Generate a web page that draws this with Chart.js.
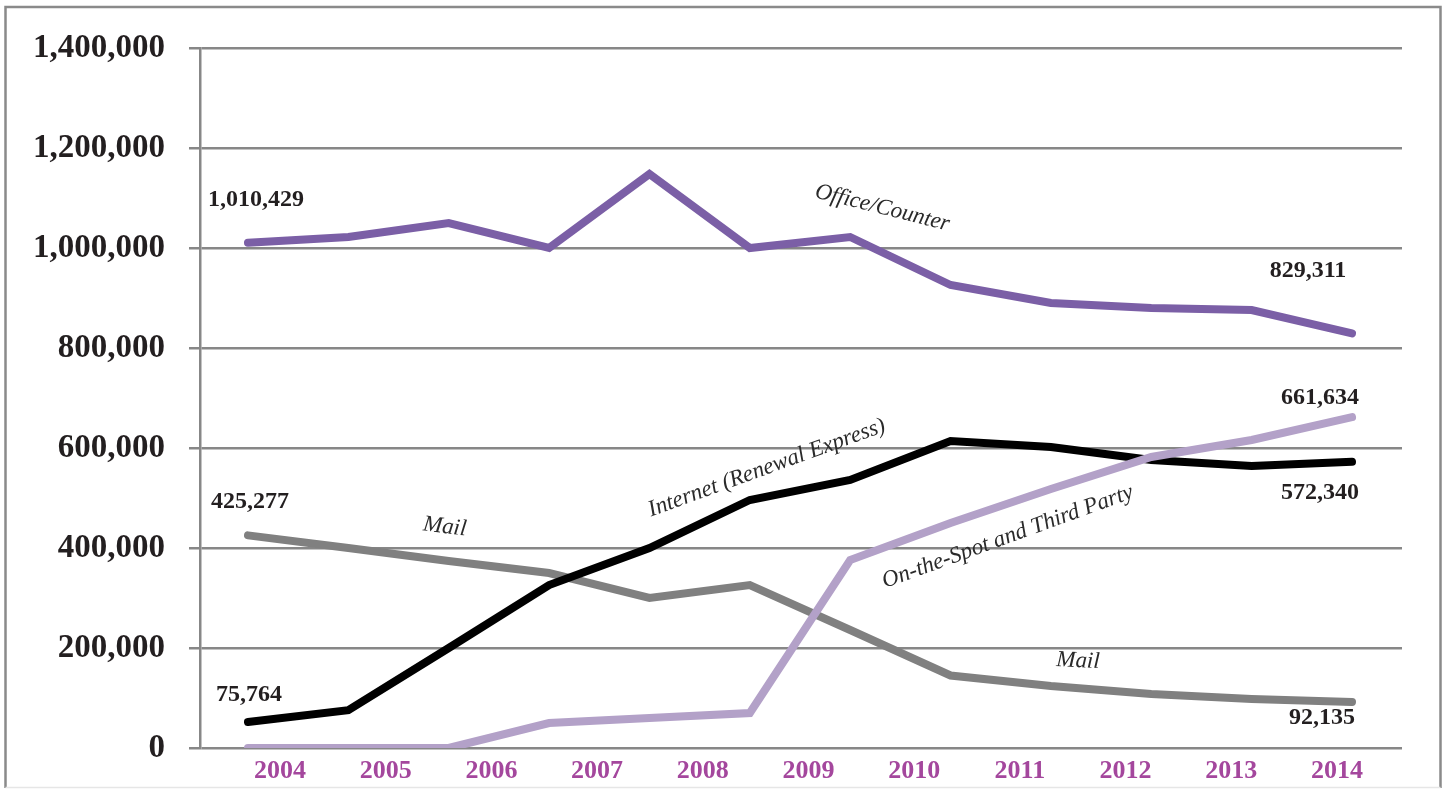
<!DOCTYPE html>
<html>
<head>
<meta charset="utf-8">
<script src="https://cdn.jsdelivr.net/npm/chart.js@4"></script>
<style>
html,body{margin:0;padding:0;background:#fff;}
#wrap{position:relative;width:1447px;height:789px;}
canvas{display:block;}
</style>
</head>
<body>
<div id="wrap"><canvas id="c" width="1447" height="789"></canvas></div>
<script>
// ---- data ----
const years = ['2004','2005','2006','2007','2008','2009','2010','2011','2012','2013','2014'];
const officeCounter = [1010429, 1022000, 1050000, 1000000, 1148000, 1000000, 1022000, 926000, 890000, 880000, 876000, 829311];
const internet = [52000, 75764, 200000, 326000, 400000, 496000, 536000, 614000, 602000, 576000, 564000, 572340];
const mail = [425277, 400000, 374000, 350000, 300000, 326000, 236000, 145000, 124000, 108000, 98000, 92135];
const onTheSpot = [0, 0, 0, 50000, 60000, 70000, 376000, 450000, 518000, 582000, 616000, 661634];
const yMax = 1400000;
const yStep = 200000;

const pts = arr => arr.map((v, i) => ({x: i, y: v}));
const fmt = v => v.toLocaleString('en-US');

const SERIF = '"Liberation Serif", "DejaVu Serif", serif';
const GRID = '#878787';

const valueLabels = [
  {series: officeCounter, i: 0, textIdx: 0, dx: 8, dy: -43},
  {series: officeCounter, i: 11, textIdx: 11, dx: -44, dy: -63},
  {series: mail, i: 0, textIdx: 0, dx: 2, dy: -34},
  {series: internet, i: 0, textIdx: 1, dx: 1, dy: -27},
  {series: onTheSpot, i: 11, textIdx: 11, dx: -32, dy: -19},
  {series: internet, i: 11, textIdx: 11, dx: -32, dy: 31},
  {series: mail, i: 11, textIdx: 11, dx: -30, dy: 16}
];
const seriesNames = [
  {text: 'Office/Counter', x: 6.32, y: 1080000, rot: 14},
  {text: 'Internet (Renewal Express)', x: 5.17, y: 560000, rot: -20},
  {text: 'On-the-Spot and Third Party', x: 7.57, y: 422000, rot: -20},
  {text: 'Mail', x: 1.96, y: 442000, rot: 7},
  {text: 'Mail', x: 8.27, y: 174000, rot: 3}
];

const framePlugin = {
  id: 'frame',
  beforeDraw(chart) {
    const ctx = chart.ctx;
    ctx.save();
    ctx.fillStyle = '#fff';
    ctx.fillRect(0, 0, chart.width, chart.height);
    ctx.strokeStyle = '#8a8a8a';
    ctx.lineWidth = 2.5;
    ctx.beginPath();
    ctx.moveTo(5.5, 788);
    ctx.lineTo(5.5, 7);
    ctx.lineTo(1440.5, 7);
    ctx.lineTo(1440.5, 788);
    ctx.stroke();
    ctx.strokeStyle = '#e6e6e6';
    ctx.lineWidth = 1.5;
    ctx.beginPath();
    ctx.moveTo(5.5, 787.5);
    ctx.lineTo(1440.5, 787.5);
    ctx.stroke();
    ctx.restore();
  }
};

const labelPlugin = {
  id: 'labels',
  afterDatasetsDraw(chart) {
    const ctx = chart.ctx;
    const xs = chart.scales.x, ys = chart.scales.y;
    ctx.save();
    ctx.textAlign = 'center';
    ctx.textBaseline = 'middle';
    ctx.fillStyle = '#231f20';
    ctx.font = 'bold 24px ' + SERIF;
    valueLabels.forEach(l => {
      const px = xs.getPixelForValue(l.i) + l.dx;
      const py = ys.getPixelForValue(l.series[l.i]) + l.dy;
      ctx.fillText(fmt(l.series[l.textIdx]), px, py);
    });
    ctx.font = 'italic 23px ' + SERIF;
    ctx.fillStyle = '#2a2a2a';
    seriesNames.forEach(s => {
      const px = xs.getPixelForValue(s.x);
      const py = ys.getPixelForValue(s.y);
      ctx.save();
      ctx.translate(px, py);
      ctx.rotate(s.rot * Math.PI / 180);
      ctx.fillText(s.text, 0, 0);
      ctx.restore();
    });
    ctx.restore();
  }
};

const lineDs = (label, values, color, order) => ({
  label, data: pts(values), borderColor: color, backgroundColor: color,
  borderWidth: 8, pointRadius: 0, tension: 0, order,
  borderCapStyle: 'round', borderJoinStyle: 'miter', fill: false,
  xAxisID: 'x', yAxisID: 'y'
});

new Chart(document.getElementById('c'), {
  type: 'line',
  data: {
    datasets: [
      lineDs('Office/Counter', officeCounter, '#7b5fa6', 1),
      lineDs('On-the-Spot and Third Party', onTheSpot, '#b3a1c8', 2),
      lineDs('Internet (Renewal Express)', internet, '#000000', 3),
      lineDs('Mail', mail, '#808080', 4)
    ]
  },
  options: {
    responsive: false,
    animation: false,
    events: [],
    layout: {padding: {left: 0, right: 45, top: 48, bottom: 0}},
    plugins: {legend: {display: false}, tooltip: {enabled: false}},
    scales: {
      x: {
        type: 'linear', display: false, min: -0.478, max: 11.498
      },
      yr: {
        type: 'linear', position: 'bottom', min: -0.757, max: 10.615,
        grid: {display: false, drawTicks: false},
        border: {display: false},
        afterBuildTicks: axis => { axis.ticks = years.map((y, i) => ({value: i})); },
        afterFit: axis => { axis.height = 41; },
        ticks: {
          autoSkip: false, maxRotation: 0, padding: 8,
          color: '#a4479d',
          font: {family: SERIF, size: 26, weight: 'bold'},
          callback: (v) => years[Math.round(v)]
        }
      },
      y: {
        type: 'linear', position: 'left', min: 0, max: yMax,
        afterFit: axis => { axis.width = 200; axis.paddingBottom = 0; axis.paddingTop = 0; },
        grid: {color: GRID, lineWidth: 2.5, tickLength: 11, drawTicks: true, tickColor: GRID},
        border: {display: true, color: GRID, width: 2.5},
        ticks: {
          stepSize: yStep, padding: 24, color: '#231f20',
          font: {family: SERIF, size: 33, weight: 'bold', lineHeight: 1},
          callback: v => fmt(v)
        }
      }
    }
  },
  plugins: [framePlugin, labelPlugin]
});
</script>
</body>
</html>
